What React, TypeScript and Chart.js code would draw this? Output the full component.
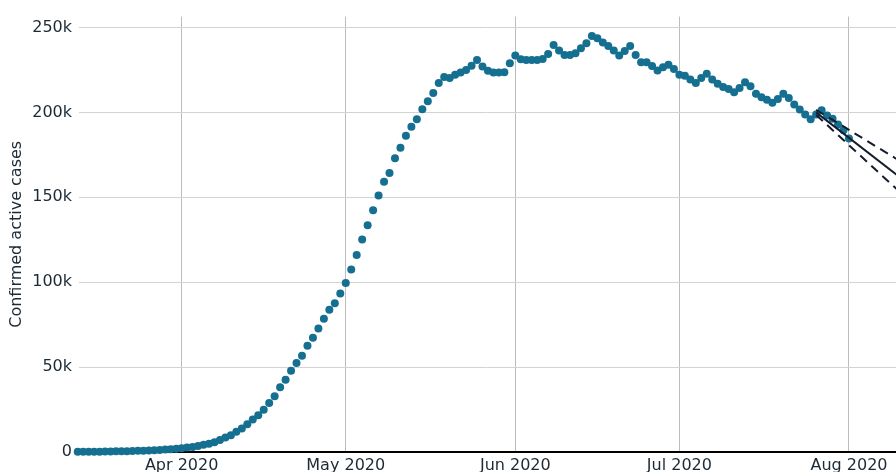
import React, { useEffect, useRef } from "react";
import { Chart, registerables } from "chart.js";

Chart.register(...registerables);

// Days are counted from 2020-03-01 (day 0). First observation: 2020-03-12.
const FIRST_DAY = 12;

// Confirmed active cases, in thousands, one value per day from 2020-03-12 to 2020-08-01
const ACTIVE_K = [
  // Mar 12 - Mar 30
  0.1, 0.1, 0.1, 0.2, 0.2, 0.3, 0.3, 0.4, 0.4, 0.5, 0.6, 0.7, 0.8, 0.9, 1.0, 1.2, 1.4, 1.6, 1.9,
  // Mar 31 - Apr 5
  2.2, 2.6, 3.0, 3.6, 4.2, 4.9,
  // Apr 6 - Apr 23
  5.7, 7.0, 8.6, 9.9, 11.9, 13.8, 16.4, 19.1, 21.6, 24.9, 28.8, 32.9, 38.1, 42.6, 47.9, 52.4, 56.7, 62.5,
  // Apr 24 - Apr 30
  67.3, 72.8, 78.4, 83.7, 87.6, 93.3, 99.5,
  // May 1 - May 19
  107.5, 116, 125.2, 133.6, 142.3, 151.1, 159.1, 164.3, 173, 179.2, 186.3, 191.6, 195.9, 201.9, 206.6, 211.4, 217.3, 220.8, 220.2,
  // May 20 - May 29
  222.1, 223.5, 225, 227.4, 230.9, 227, 224.5, 223.5, 223.5, 223.7,
  // May 30 - Jun 8
  229, 233.5, 231.3, 230.9, 230.9, 230.9, 231.5, 234.4, 239.7, 236.4,
  // Jun 9 - Jun 18
  233.8, 233.8, 234.8, 237.7, 240.7, 245, 243.6, 241.2, 239.1, 236.4,
  // Jun 19 - Jun 28
  233.5, 236.2, 239.1, 233.8, 229.5, 229.5, 227.3, 224.7, 226.6, 228,
  // Jun 29 - Jul 8
  225.5, 222.1, 221.6, 219.3, 217.3, 220.2, 222.8, 219.3, 216.9, 215,
  // Jul 9 - Jul 18
  213.8, 211.9, 214.4, 217.7, 215.4, 210.9, 208.9, 207.5, 205.6, 207.9,
  // Jul 19 - Jul 31
  211, 208.5, 204.6, 201.7, 198.8, 195.9, 198.8, 201.3, 198.2, 196.3, 192.9, 189.4, 184.6,
];

// Forecast (fit) and its confidence band, in thousands
const FIT_DAYS = [147, 162];
const FIT_K = [200, 162.6];
const UPPER_K = [201.5, 172];
const LOWER_K = [198.5, 154];

const MONTH_TICK_DAYS = [31, 61, 92, 122, 153];
const MONTH_TICK_LABELS = ["Apr 2020", "May 2020", "Jun 2020", "Jul 2020", "Aug 2020"];
const Y_TICKS = [0, 50000, 100000, 150000, 200000, 250000];
const Y_TICK_LABELS = ["0", "50k", "100k", "150k", "200k", "250k"];

const FONT = { family: "'DejaVu Sans', Verdana, sans-serif", size: 16 };
const TEXT = "#1c2a35";

export default function App() {
  const ref = useRef<HTMLCanvasElement | null>(null);

  useEffect(() => {
    if (!ref.current) return;
    const points = ACTIVE_K.map((v, i) => ({ x: FIRST_DAY + i, y: v * 1000 }));
    const line = (arr: number[]) => arr.map((v, i) => ({ x: FIT_DAYS[i], y: v * 1000 }));

    const chart = new Chart(ref.current, {
      type: "scatter",
      data: {
        datasets: [
          {
            type: "line",
            data: line(UPPER_K),
            borderColor: "#141c30",
            borderWidth: 2,
            borderDash: [9, 6],
            pointRadius: 0,
            fill: false,
          } as any,
          {
            type: "line",
            data: line(LOWER_K),
            borderColor: "#141c30",
            borderWidth: 2,
            borderDash: [9, 6],
            pointRadius: 0,
            fill: false,
          } as any,
          {
            type: "line",
            data: line(FIT_K),
            borderColor: "#141c30",
            borderWidth: 2,
            pointRadius: 0,
            fill: false,
          } as any,
          {
            data: points,
            backgroundColor: "#156f91",
            borderWidth: 0,
            pointRadius: 4,
            clip: false,
          } as any,
        ],
      },
      options: {
        animation: false,
        responsive: false,
        devicePixelRatio: 1,
        layout: { autoPadding: false, padding: { top: 13, right: 0, bottom: 0, left: 0 } },
        plugins: { legend: { display: false }, tooltip: { enabled: false } },
        scales: {
          x: {
            type: "linear",
            min: 12.23,
            max: 161.6,
            afterBuildTicks: (scale: any) => {
              scale.ticks = MONTH_TICK_DAYS.map((v) => ({ value: v }));
            },
            afterFit: (scale: any) => {
              scale.height = 20;
            },
            ticks: {
              autoSkip: false,
              maxRotation: 0,
              padding: 4,
              color: TEXT,
              font: FONT,
              callback: (v: any) => {
                const i = MONTH_TICK_DAYS.indexOf(Number(v));
                return i >= 0 ? MONTH_TICK_LABELS[i] : "";
              },
            },
            grid: { color: "#bdbdbd", lineWidth: 1, drawTicks: false },
            border: { display: true, color: "#000000", width: 2 },
          },
          y: {
            type: "linear",
            min: 0,
            max: 256400,
            afterBuildTicks: (scale: any) => {
              scale.ticks = Y_TICKS.map((v) => ({ value: v }));
            },
            afterFit: (scale: any) => {
              scale.width = 79;
            },
            ticks: {
              padding: 7,
              color: TEXT,
              font: FONT,
              callback: (v: any) => {
                const i = Y_TICKS.indexOf(Number(v));
                return i >= 0 ? Y_TICK_LABELS[i] : "";
              },
            },
            grid: { color: "#d3d3d3", lineWidth: 1, drawTicks: false },
            border: { display: false },
            title: {
              display: true,
              text: "Confirmed active cases",
              color: TEXT,
              font: FONT,
              padding: { top: 7, bottom: 0 },
            },
          },
        },
      },
    });
    return () => chart.destroy();
  }, []);

  return (
    <div style={{ position: "absolute", left: 0, top: 0, width: 896, height: 472, overflow: "hidden", background: "#ffffff" }}>
      <canvas ref={ref} width={896} height={472} style={{ width: 896, height: 472, display: "block" }} />
    </div>
  );
}
